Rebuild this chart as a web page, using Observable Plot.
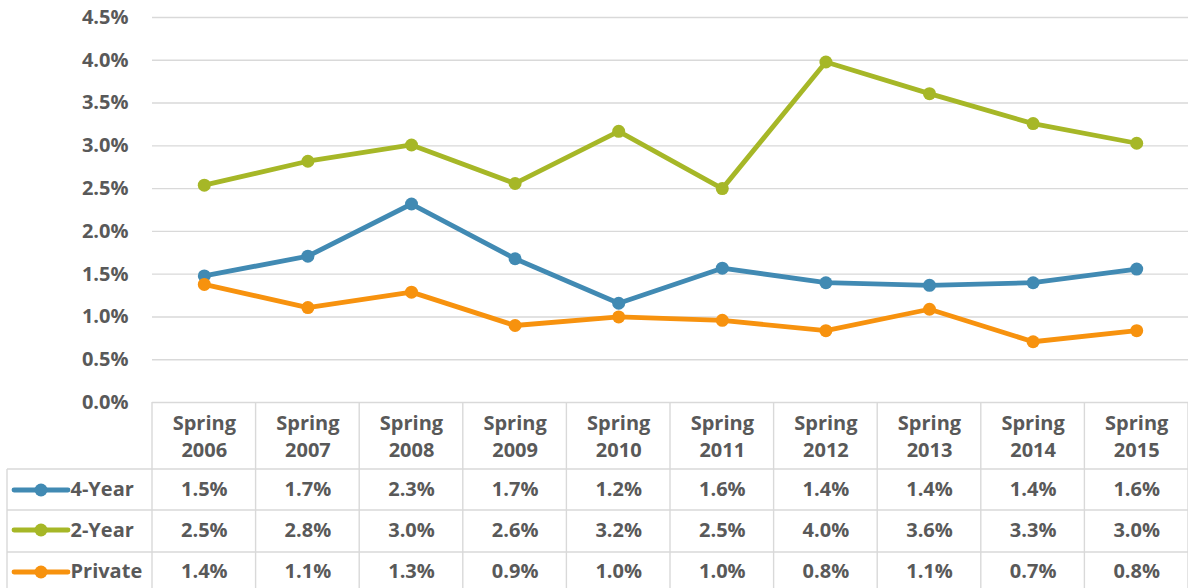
<!DOCTYPE html>
<html>
<head>
<meta charset="utf-8">
<script src="https://cdn.jsdelivr.net/npm/d3@7"></script>
<script src="https://cdn.jsdelivr.net/npm/@observablehq/plot@0.6"></script>
<style>
  html, body { margin: 0; padding: 0; background: #fff; }
</style>
</head>
<body>
<div id="chart"></div>
<script>
const years = ["2006","2007","2008","2009","2010","2011","2012","2013","2014","2015"];
const seriesNames = ["4-Year", "2-Year", "Private"];
const fourYear = [1.48, 1.71, 2.32, 1.68, 1.16, 1.57, 1.40, 1.37, 1.40, 1.56];
const twoYear  = [2.54, 2.82, 3.01, 2.56, 3.17, 2.50, 3.98, 3.61, 3.26, 3.03];
const privateS = [1.38, 1.11, 1.29, 0.90, 1.00, 0.96, 0.84, 1.09, 0.71, 0.84];
const yTicks = [0, 0.5, 1, 1.5, 2, 2.5, 3, 3.5, 4, 4.5];
const colors = ["#418ab3", "#a6b727", "#f7920e"];

const seriesValues = [fourYear, twoYear, privateS];
const data = seriesNames.flatMap((s, k) =>
  seriesValues[k].map((v, i) => ({series: s, i, year: years[i], v}))
);

const textColor = "#595959";
const gridColor = "#d9d9d9";
const fontSize = 20;
const rowTops = [469, 510, 552, 594];   // table row boundaries (px)
const rowCenters = [88, 128, 170];      // swatch offsets below the x-axis line
const textOffsets = [93, 134, 175];     // text offsets below the x-axis line
const headerOffset = 54;

function tableGrid(index, scales, values, dims) {
  const x = scales.x, y = scales.y, c = scales.color;
  const g = d3.create("svg:g");
  const top = y(0);
  const right = x(years.length - 0.5);
  const bottom = dims.height;
  const ln = g.append("g").attr("stroke", gridColor).attr("stroke-width", 1.4);
  for (let i = 0; i <= years.length; i++) {
    ln.append("line").attr("x1", x(i - 0.5)).attr("x2", x(i - 0.5)).attr("y1", top).attr("y2", bottom);
  }
  ln.append("line").attr("x1", 7).attr("x2", 7).attr("y1", rowTops[0]).attr("y2", bottom);
  rowTops.forEach(r => ln.append("line").attr("x1", 7).attr("x2", right).attr("y1", r).attr("y2", r));
  seriesNames.forEach((s, k) => {
    const cy = top + rowCenters[k];
    g.append("line").attr("x1", 14).attr("x2", 68).attr("y1", cy).attr("y2", cy)
      .attr("stroke", c(s)).attr("stroke-width", 4.8).attr("stroke-linecap", "round");
    g.append("circle").attr("cx", 41).attr("cy", cy).attr("r", 6.5).attr("fill", c(s));
  });
  return g.node();
}

const marks = [
  Plot.ruleY(yTicks, {stroke: gridColor, strokeWidth: 1.4}),
  tableGrid
];
seriesNames.forEach((s, k) => {
  const d = data.filter(r => r.series === s);
  marks.push(Plot.line(d, {x: "i", y: "v", stroke: "series", strokeWidth: 4.8, strokeLinejoin: "round", strokeLinecap: "round"}));
  marks.push(Plot.dot(d, {x: "i", y: "v", fill: "series", r: 6.5}));
});
marks.push(Plot.text(years.map((yr, i) => ({i, label: "Spring\n" + yr})), {
  x: "i", text: "label", frameAnchor: "bottom", dy: headerOffset, lineHeight: 1.35,
  fill: textColor, fontSize, fontWeight: "bold"
}));
seriesNames.forEach((s, k) => {
  const d = data.filter(r => r.series === s);
  marks.push(Plot.text(d, {
    x: "i", text: r => r.v.toFixed(1) + "%", frameAnchor: "bottom", dy: textOffsets[k],
    fill: textColor, fontSize, fontWeight: "bold"
  }));
  marks.push(Plot.text([s], {
    text: r => r, frameAnchor: "bottom-left", dx: -82, dy: textOffsets[k], textAnchor: "start",
    fill: textColor, fontSize, fontWeight: "bold"
  }));
});

const chart = Plot.plot({
  width: 1188,
  height: 588,
  marginLeft: 152,
  marginRight: 0,
  marginTop: 17,
  marginBottom: 186,
  style: {fontFamily: "'Open Sans', sans-serif", fontSize: fontSize + "px", fontWeight: "bold", color: textColor, background: "#fff", overflow: "visible"},
  x: {type: "linear", domain: [-0.5, years.length - 0.5], axis: null},
  y: {domain: [0, 4.5], ticks: yTicks, tickFormat: d => d.toFixed(1) + "%", tickSize: 0, tickPadding: 24, label: null},
  color: {domain: seriesNames, range: colors},
  marks
});
document.getElementById("chart").appendChild(chart);
</script>
</body>
</html>
